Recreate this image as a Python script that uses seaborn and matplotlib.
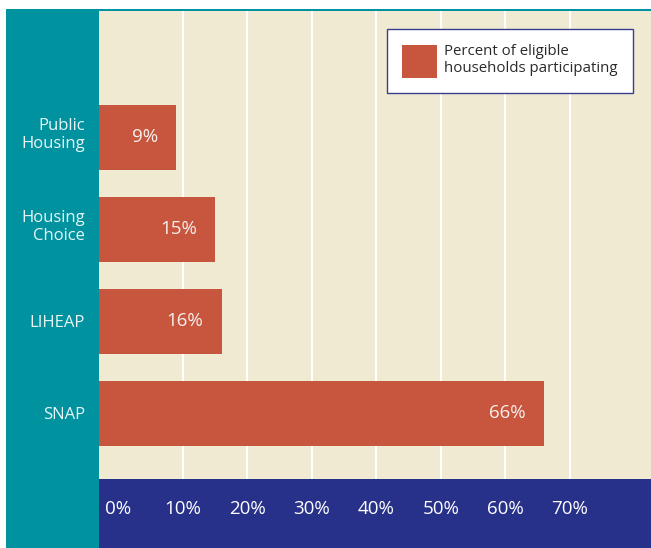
import matplotlib
matplotlib.use("Agg")
import matplotlib.pyplot as plt
from matplotlib.patches import Rectangle, Patch
from matplotlib.transforms import ScaledTranslation
import seaborn as sns

programs = ["Public\nHousing", "Housing\nChoice", "LIHEAP", "SNAP"]
participation = [9, 15, 16, 66]
ticks = [0, 10, 20, 30, 40, 50, 60, 70]
tick_labels = ["0%", "10%", "20%", "30%", "40%", "50%", "60%", "70%"]
legend_label = "Percent of eligible\nhouseholds participating"

bar_color = "#c8553d"
beige = "#efead1"
teal = "#00929f"
navy = "#28318a"

sns.set_style("white")
plt.rcParams["font.family"] = ["Open Sans", "DejaVu Sans"]

W, H = 651, 548
fig = plt.figure(figsize=(W / 100, H / 100), dpi=100)
fig.patch.set_facecolor("white")

# background bands
fig.add_artist(Rectangle((6 / W, 0), 1 - 6 / W, 1 - 9 / H, transform=fig.transFigure,
                         facecolor=teal, edgecolor="none", zorder=0))
fig.add_artist(Rectangle((99 / W, 0), 1 - 99 / W, (H - 479) / H, transform=fig.transFigure,
                         facecolor=navy, edgecolor="none", zorder=0))

ax = fig.add_axes([99 / W, (H - 479) / H, 1 - 99 / W, (479 - 11) / H])
ax.set_facecolor(beige)

sns.barplot(x=participation, y=programs, orient="h", color=bar_color, saturation=1,
            width=0.7, linewidth=0, ax=ax, zorder=3)

xmin, xmax = -3.0, 82.6
ax.set_xlim(xmin, xmax)
ax.set_ylim(3.712, -1.375)

# bars run all the way to the left edge of the panel
for p in ax.patches:
    right = p.get_x() + p.get_width()
    p.set_x(xmin)
    p.set_width(right - xmin)

for i, v in enumerate(participation):
    ax.annotate(f"{v}%", (v, i), xytext=(-13, 0), textcoords="offset points",
                ha="right", va="center", color="#f8f0ec", fontsize=13.5, zorder=4)

ax.set_xticks(ticks)
ax.set_xticklabels(tick_labels)
ax.tick_params(axis="x", length=0, pad=15, labelsize=13.5, labelcolor="white")
ax.tick_params(axis="y", length=0, pad=10, labelsize=12, labelcolor="#e8f6f6")
for t in ax.get_yticklabels():
    t.set_multialignment("right")
    if "\n" in t.get_text():
        t.set_transform(t.get_transform() + ScaledTranslation(0, 4 / 72, fig.dpi_scale_trans))

ax.grid(axis="x", color="white", linewidth=1.5, zorder=1)
ax.grid(axis="y", visible=False)
ax.set_axisbelow(True)
ax.xaxis.get_gridlines()[0].set_visible(False)
sns.despine(ax=ax, left=True, bottom=True)
ax.set_xlabel("")
ax.set_ylabel("")

leg = ax.legend(handles=[Patch(facecolor=bar_color, edgecolor="none", label=legend_label)],
                loc="upper left", bbox_to_anchor=(387 / W, 1 - 29 / H),
                bbox_transform=fig.transFigure, fontsize=10.8, frameon=True,
                fancybox=False, borderpad=1.0, borderaxespad=0, handlelength=2.3,
                handleheight=3.0, handletextpad=0.5, labelcolor="#2a2a2a")
leg.get_frame().set_edgecolor("#3a3c8c")
leg.get_frame().set_linewidth(1.0)
leg.get_frame().set_facecolor("white")
leg.get_frame().set_alpha(1)
leg.set_zorder(5)

fig.savefig("out.png", dpi=100, facecolor="white")
